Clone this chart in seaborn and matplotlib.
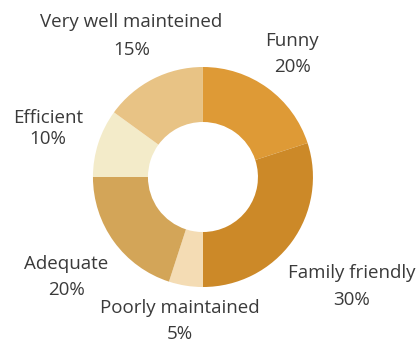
import matplotlib
matplotlib.use("Agg")
import matplotlib.pyplot as plt
import seaborn as sns

# Survey answers, clockwise from 12 o'clock
categories = ["Funny", "Family friendly", "Poorly maintained",
              "Adequate", "Efficient", "Very well mainteined"]
shares = [20, 30, 5, 20, 10, 15]
colors = ["#DE9A36", "#CC8928", "#F4DCB4", "#D3A558", "#F3EBC9", "#E8C385"]

# Label anchor per slice (x, y of the name line, y of the percent line)
label_pos = [(0.81, 1.24, 1.00), (1.35, -0.87, -1.12), (-0.21, -1.19, -1.43),
             (-1.24, -0.79, -1.03), (-1.41, 0.54, 0.35), (-0.65, 1.41, 1.15)]

sns.set_theme(style="white")
plt.rcParams["font.family"] = ["Open Sans", "DejaVu Sans"]

fig = plt.figure(figsize=(4.19, 3.44), dpi=100)
ax = fig.add_axes([0, 0, 1, 1])
palette = sns.color_palette(colors)

wedges, _ = ax.pie(shares, colors=palette, startangle=90, counterclock=False,
                   radius=1.0, wedgeprops=dict(width=0.5, edgecolor="none"))

for name, val, (x, y1, y2) in zip(categories, shares, label_pos):
    ax.text(x, y1, name, ha="center", va="center", fontsize=13.5, color="#3a3a3a")
    ax.text(x, y2, f"{val}%", ha="center", va="center", fontsize=13.5, color="#3a3a3a")

ax.set_xlim(-1.845, 1.964)
ax.set_ylim(-1.518, 1.609)
ax.set_aspect("auto")
ax.axis("off")

fig.savefig("out.png", dpi=100, facecolor="white")
